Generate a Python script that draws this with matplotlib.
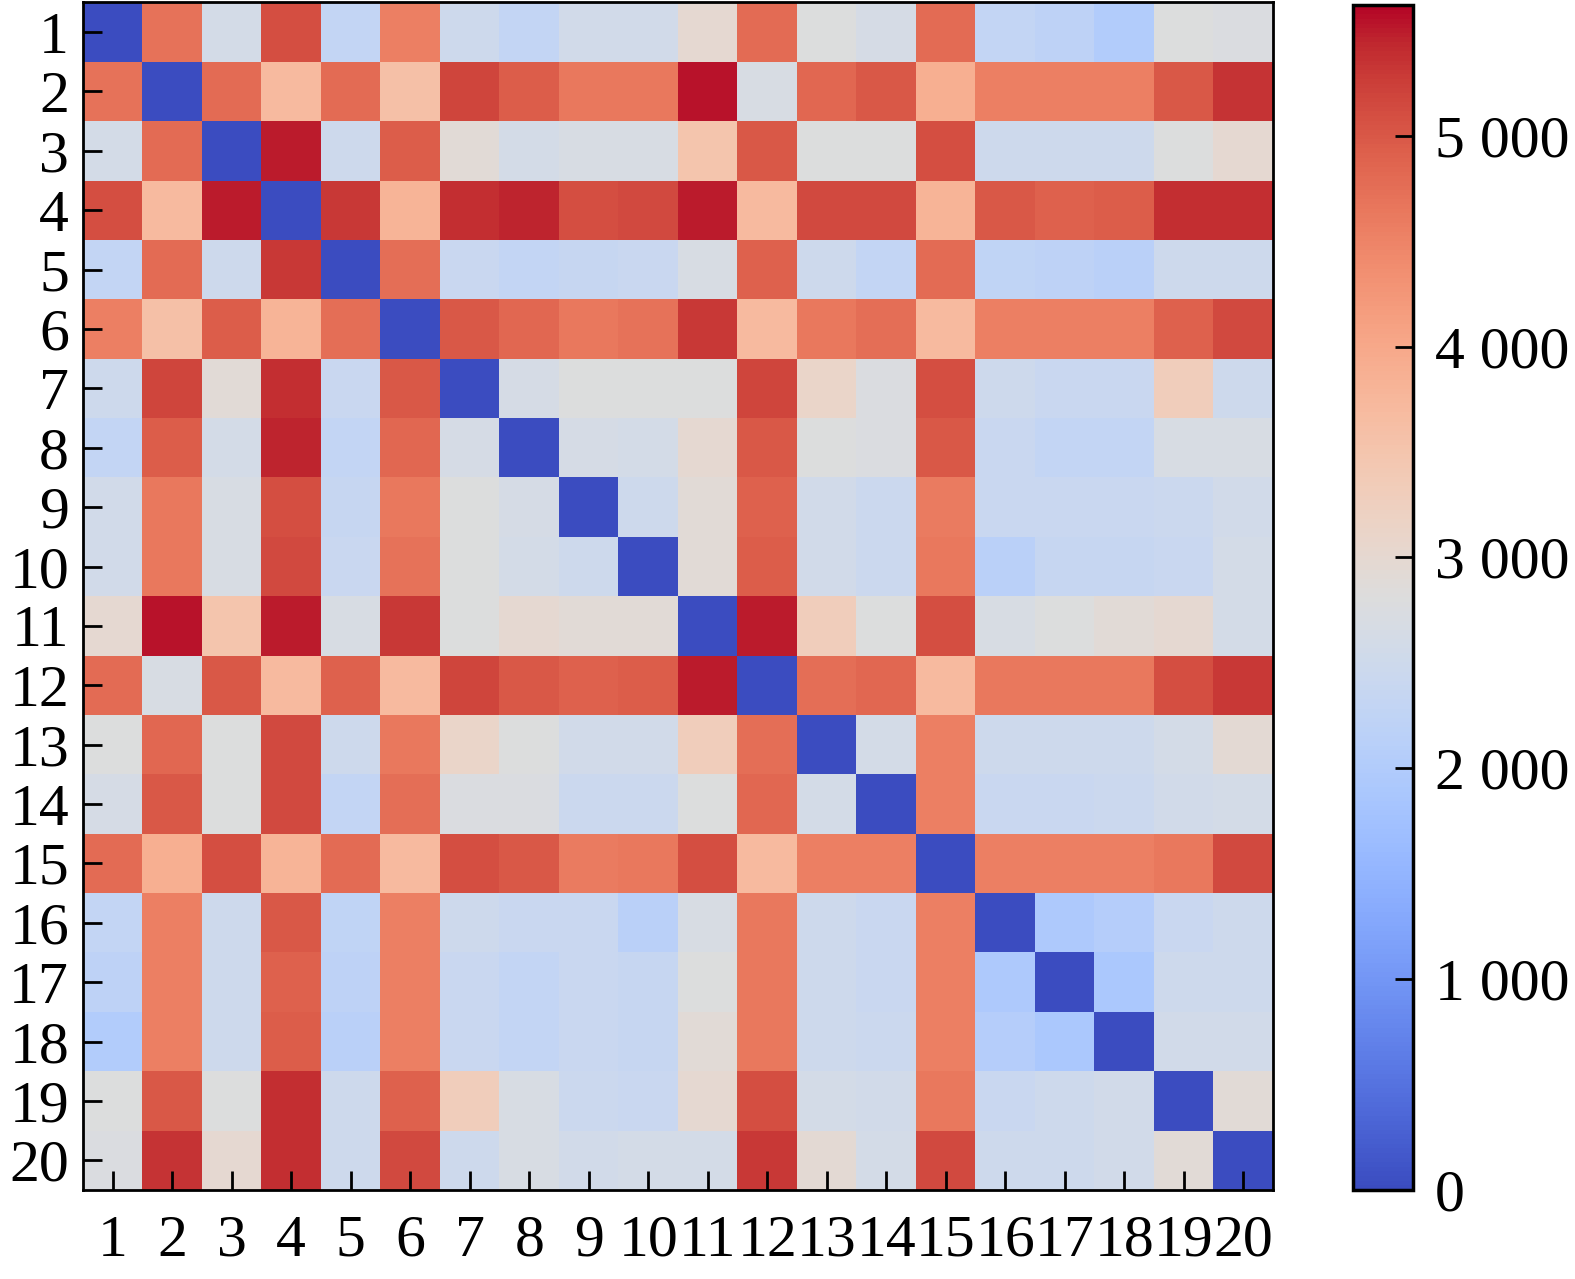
import numpy as np
import matplotlib.pyplot as plt
from matplotlib.ticker import FuncFormatter

plt.rcParams.update({
    "font.family": "Liberation Serif",
    "font.size": 43,
    "xtick.labelsize": 43,
    "ytick.labelsize": 43,
})

labels = [str(i) for i in range(1, 21)]

# upper triangle of the symmetric distance matrix, row i holds columns i+1..20
upper = [
    [4700, 2600, 5100, 2300, 4550, 2500, 2300, 2550, 2550, 3000, 4800, 2800, 2650, 4800, 2300, 2200, 2000, 2800, 2750],
    [4800, 3700, 4800, 3600, 5200, 4950, 4650, 4650, 5550, 2700, 4850, 5000, 3900, 4550, 4550, 4550, 5000, 5350],
    [5500, 2500, 4950, 2900, 2600, 2700, 2700, 3500, 5000, 2800, 2800, 5100, 2500, 2500, 2500, 2800, 3000],
    [5300, 3800, 5400, 5450, 5100, 5150, 5500, 3700, 5150, 5150, 3800, 5000, 4900, 4950, 5400, 5400],
    [4750, 2400, 2300, 2350, 2400, 2700, 4900, 2500, 2300, 4800, 2250, 2200, 2150, 2500, 2500],
    [5000, 4850, 4650, 4700, 5300, 3700, 4650, 4750, 3700, 4550, 4550, 4550, 4900, 5150],
    [2650, 2800, 2800, 2800, 5200, 3100, 2750, 5100, 2500, 2400, 2400, 3300, 2500],
    [2650, 2600, 3000, 5000, 2800, 2750, 5000, 2400, 2300, 2300, 2700, 2700],
    [2500, 2900, 4900, 2550, 2450, 4600, 2400, 2400, 2400, 2450, 2550],
    [2900, 4950, 2550, 2450, 4650, 2150, 2350, 2350, 2400, 2600],
    [5500, 3300, 2800, 5100, 2700, 2800, 2900, 3000, 2600],
    [4750, 4850, 3700, 4650, 4650, 4650, 5100, 5300],
    [2600, 4550, 2500, 2500, 2500, 2600, 2950],
    [4550, 2400, 2400, 2450, 2550, 2600],
    [4550, 4550, 4550, 4650, 5150],
    [1950, 2050, 2400, 2500],
    [1900, 2500, 2500],
    [2550, 2550],
    [2900],
]

n = len(labels)
dist = np.zeros((n, n))
for i, row in enumerate(upper):
    dist[i, i + 1:] = row
dist = dist + dist.T

fig = plt.figure(figsize=(15.75, 12.79), dpi=100)
ax = fig.add_axes([0.0527, 0.0696, 0.7555, 0.9285])
cax = fig.add_axes([0.859, 0.0696, 0.038, 0.9265])

mesh = ax.pcolormesh(np.arange(n + 1) + 0.5, np.arange(n + 1) + 0.5, dist,
                     cmap="coolwarm", vmin=0, vmax=5620)
ax.set_xlim(0.5, n + 0.5)
ax.set_ylim(n + 0.5, 0.5)
ax.set_xticks(range(1, n + 1))
ax.set_yticks(range(1, n + 1))
ax.set_xticklabels(labels)
ax.set_yticklabels(labels)
ax.tick_params(direction="in", length=14, width=2, pad=10)
ax.tick_params(axis="x", pad=18)
for s in ax.spines.values():
    s.set_linewidth(2)

cb = fig.colorbar(mesh, cax=cax)
cb.set_ticks([0, 1000, 2000, 3000, 4000, 5000])
cb.ax.yaxis.set_major_formatter(FuncFormatter(lambda v, p: f"{int(v):,}".replace(",", " ")))
cb.ax.tick_params(direction="in", length=13, width=2, pad=16)
cb.outline.set_linewidth(2.5)

fig.savefig("out.png", dpi=100)
